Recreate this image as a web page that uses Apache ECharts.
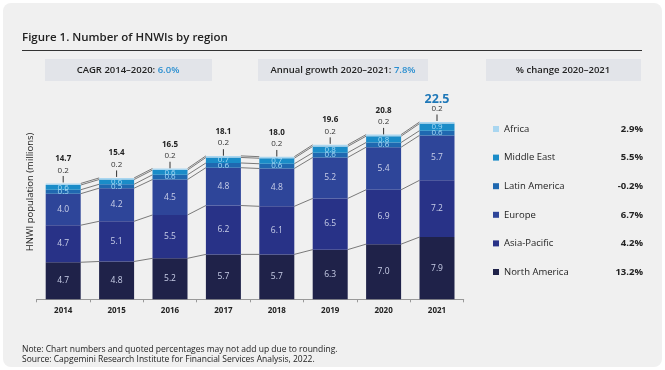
<!DOCTYPE html>
<html><head><meta charset="utf-8">
<script src="https://cdn.jsdelivr.net/npm/echarts@6/dist/echarts.min.js"></script>
<style>html,body{margin:0;padding:0;background:#fff}#c{width:665px;height:370px}</style>
</head><body><div id="c"></div>
<script>
const years = ['2014','2015','2016','2017','2018','2019','2020','2021'];
const northAmerica = [4.7, 4.8, 5.2, 5.7, 5.7, 6.3, 7.0, 7.9];
const asiaPacific  = [4.7, 5.1, 5.5, 6.2, 6.1, 6.5, 6.9, 7.2];
const europe       = [4.0, 4.2, 4.5, 4.8, 4.8, 5.2, 5.4, 5.7];
const latinAmerica = [0.5, 0.5, 0.6, 0.6, 0.6, 0.6, 0.6, 0.6];
const middleEast   = [0.6, 0.6, 0.6, 0.7, 0.7, 0.8, 0.8, 0.9];
const africa       = [0.2, 0.2, 0.2, 0.2, 0.2, 0.2, 0.2, 0.2];
const totals       = [14.7, 15.4, 16.5, 18.1, 18.0, 19.6, 20.8, 22.5];
const regionNames  = ['North America','Asia-Pacific','Europe','Latin America','Middle East','Africa'];
const pctChange    = {'Africa':'2.9%','Middle East':'5.5%','Latin America':'-0.2%','Europe':'6.7%','Asia-Pacific':'4.2%','North America':'13.2%'};
const cagr = '6.0%';
const annualGrowth = '7.8%';

const seriesData = [northAmerica, asiaPacific, europe, latinAmerica, middleEast, africa];
const colors = ['#1f2249','#283287','#2e4599','#1f68b0','#1a8cc8','#a9d6f0'];
const labelColors = ['#c9cfe8','#c9cfe8','#c9cfe8','#a6daf6','#a6daf6','#333'];
const BAR_W = 35;

// cumulative tops per category
const cum = years.map((_, i) => {
  let s = 0; return seriesData.map(arr => (s += arr[i]));
});
const connectorData = years.slice(0, -1).map((_, i) => [i].concat(cum[i], cum[i + 1]));

const chart = echarts.init(document.getElementById('c'));
const FONT = 'Open Sans, Noto Sans, sans-serif';

const barSeries = seriesData.map((arr, k) => ({
  name: regionNames[k], type: 'bar', stack: 'total', data: arr, barWidth: BAR_W,
  itemStyle: { color: colors[k] },
  z: 3,
  label: k === 5 ? {
    show: true, position: 'top', distance: 9, fontSize: 8, color: '#333', fontFamily: FONT,
    formatter: p => p.value.toFixed(1)
  } : {
    show: true, position: 'inside', fontSize: k >= 3 ? 8 : 8.5, color: labelColors[k], fontFamily: FONT,
    formatter: p => p.value.toFixed(1)
  },
  emphasis: { disabled: true }
}));

const option = {
  animation: false,
  textStyle: { fontFamily: FONT },
  graphic: [
    { type: 'rect', z: -10, shape: { x: 3, y: 3, width: 659, height: 364, r: 8 }, style: { fill: '#f0f0f0' } },
    { type: 'text', left: 22, top: 32, style: { text: 'Figure 1. Number of HNWIs by region', font: '600 11.5px ' + FONT, fill: '#222' } },
    { type: 'line', shape: { x1: 22, y1: 50.5, x2: 642, y2: 50.5 }, style: { stroke: '#333', lineWidth: 1 } },
    { type: 'rect', shape: { x: 45, y: 59, width: 167, height: 22 }, style: { fill: '#e2e4e9' } },
    { type: 'rect', shape: { x: 258, y: 59, width: 170, height: 22 }, style: { fill: '#e2e4e9' } },
    { type: 'rect', shape: { x: 486, y: 59, width: 155, height: 22 }, style: { fill: '#e2e4e9' } },
    { type: 'text', x: 128, y: 70, style: { text: '{b|CAGR 2014–2020: }{v|' + cagr + '}', align: 'center', verticalAlign: 'middle',
        rich: { b: { font: '600 9.5px ' + FONT, fill: '#222' }, v: { font: '600 9.5px ' + FONT, fill: '#2b8fd0' } } } },
    { type: 'text', x: 343, y: 70, style: { text: '{b|Annual growth 2020–2021: }{v|' + annualGrowth + '}', align: 'center', verticalAlign: 'middle',
        rich: { b: { font: '600 9.5px ' + FONT, fill: '#222' }, v: { font: '600 9.5px ' + FONT, fill: '#2b8fd0' } } } },
    { type: 'text', x: 563, y: 70, style: { text: '% change 2020–2021', align: 'center', verticalAlign: 'middle', font: '600 9.5px ' + FONT, fill: '#222' } },
    { type: 'text', x: 30, y: 192, rotation: Math.PI / 2, style: { text: 'HNWI population (millions)', align: 'center', verticalAlign: 'middle', font: '9.5px ' + FONT, fill: '#222' } },
    { type: 'text', left: 22, top: 345, style: { text: 'Note: Chart numbers and quoted percentages may not add up due to rounding.\nSource: Capgemini Research Institute for Financial Services Analysis, 2022.', font: '8.5px ' + FONT, fill: '#222', lineHeight: 10 } }
  ],
  legend: {
    orient: 'vertical', left: 488, top: 118, itemWidth: 6, itemHeight: 6, itemGap: 16.6,
    icon: 'rect', selectedMode: false,
    data: ['Africa','Middle East','Latin America','Europe','Asia-Pacific','North America'],
    formatter: n => '{n|' + n + '}{p|' + pctChange[n] + '}',
    textStyle: {
      fontSize: 9.5, color: '#222', lineHeight: 12,
      rich: { n: { width: 95, fontSize: 9.5, color: '#222', fontFamily: FONT }, p: { width: 44, align: 'right', fontSize: 9.5, fontWeight: 'bold', color: '#222', fontFamily: FONT } }
    }
  },
  grid: { left: 36.5, right: 201.3, top: 102.3, bottom: 70.7 },
  xAxis: {
    type: 'category', data: years,
    axisLine: { lineStyle: { color: '#999', width: 1 } },
    axisTick: { show: true, length: 3, lineStyle: { color: '#999' } },
    axisLabel: { fontSize: 8, fontWeight: 'bold', color: '#222', margin: 7, fontFamily: FONT }
  },
  yAxis: { type: 'value', min: 0, max: 25, show: false },
  series: barSeries.concat([
    {
      type: 'custom', name: 'connectors', silent: true, z: 2,
      data: connectorData,
      encode: { x: 0, y: [1] },
      renderItem: (params, api) => {
        const i = api.value(0);
        const children = [];
        for (let k = 0; k < 6; k++) {
          const a = api.coord([i, api.value(1 + k)]);
          const b = api.coord([i + 1, api.value(7 + k)]);
          children.push({ type: 'line', shape: { x1: a[0] + BAR_W / 2, y1: a[1], x2: b[0] - BAR_W / 2, y2: b[1] },
            style: { stroke: '#5a5a5a', lineWidth: 0.8 } });
        }
        return { type: 'group', children };
      }
    },
    {
      type: 'custom', name: 'totals', silent: true, z: 4,
      data: totals.map((t, i) => [i, t]),
      encode: { x: 0, y: 1 },
      renderItem: (params, api) => {
        const i = api.value(0), t = api.value(1);
        const p = api.coord([i, t]);
        const last = i === totals.length - 1;
        return { type: 'group', children: [
          { type: 'line', shape: { x1: p[0], y1: p[1] - 1, x2: p[0], y2: p[1] - 7.5 }, style: { stroke: '#333', lineWidth: 1 } },
          { type: 'text', style: { x: p[0], y: last ? p[1] - 23 : p[1] - 25, text: t.toFixed(1), align: 'center', verticalAlign: 'middle',
              font: (last ? 'bold 12.5px ' : 'bold 8px ') + FONT, fill: last ? '#1f78b8' : '#222' } }
        ] };
      }
    }
  ])
};
chart.setOption(option);
</script></body></html>
